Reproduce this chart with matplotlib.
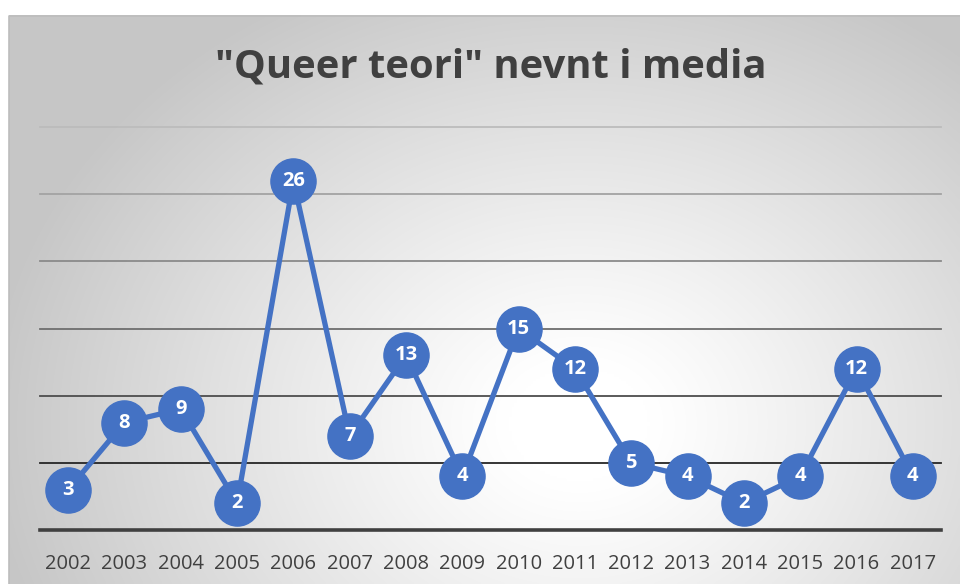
import numpy as np
import matplotlib
matplotlib.use("Agg")
import matplotlib.pyplot as plt

years = ["2002", "2003", "2004", "2005", "2006", "2007", "2008", "2009",
         "2010", "2011", "2012", "2013", "2014", "2015", "2016", "2017"]
counts = [3, 8, 9, 2, 26, 7, 13, 4, 15, 12, 5, 4, 2, 4, 12, 4]
grid_vals = [5, 10, 15, 20, 25, 30]
grid_cols = ["#262626", "#4d4d4d", "#6e6e6e", "#8a8a8a", "#a3a3a3", "#bcbcbc"]
title = '"Queer teori" nevnt i media'

W, H = 960, 584
fig = plt.figure(figsize=(W / 100, H / 100), dpi=100)
fig.patch.set_facecolor("white")

# background with radial gradient
bx0, by0 = 9, 15
bg = fig.add_axes([bx0 / W, 0, (W - bx0) / W, (H - by0) / H])
nx, ny = 400, 240
xs = np.linspace(0, 1, nx)
ys = np.linspace(0, 1, ny)
X, Y = np.meshgrid(xs, ys)
cx, cy = 0.60, 0.72
d = np.sqrt(((X - cx) / 0.62) ** 2 + ((Y - cy) / 0.85) ** 2)
d = np.clip((d - 0.12) / 0.88, 0, 1)
val = 1.0 - 0.22 * d ** 1.1
img = np.dstack([val, val, val])
bg.imshow(img, extent=[0, 1, 0, 1], aspect="auto", origin="upper", interpolation="bilinear")
bg.set_xlim(0, 1)
bg.set_ylim(0, 1)
bg.axis("off")
# border
bg.plot([0.0005, 0.0005, 1], [0, 0.999, 0.999], color="#bdbdbd", lw=1.2, transform=bg.transAxes, clip_on=False)

# plot axes
px0, px1 = 40, 941
py_top, py_bot = 127, 530
ax = fig.add_axes([px0 / W, (H - py_bot) / H, (px1 - px0) / W, (py_bot - py_top) / H])
ax.patch.set_alpha(0)
ax.set_ylim(0, 30)
ax.set_xlim(-0.5, len(years) - 0.5)
for v, c in zip(grid_vals, grid_cols):
    ax.axhline(v, color=c, lw=1.3, zorder=1, clip_on=False)
ax.axhline(0, color="#404040", lw=2.6, zorder=1, clip_on=False)
for s in ax.spines.values():
    s.set_visible(False)
ax.set_yticks([])
x = np.arange(len(years))
ax.set_xticks(x)
ax.set_xticklabels(years, fontsize=14.5, color="#404040", family="Open Sans")
ax.tick_params(axis="x", length=0, pad=17)

ax.plot(x, counts, color="#4472C4", lw=3.8, marker="o", markersize=32.5,
        markerfacecolor="#4472C4", markeredgecolor="#4472C4", zorder=3, clip_on=False)
for xi, v in zip(x, counts):
    ax.text(xi, v, str(v), ha="center", va="center", color="white",
            fontsize=14.5, fontweight="bold", family="Open Sans", zorder=4)

fig.text(491 / W, 1 - 67 / H, title, ha="center", va="center", fontsize=28.8,
         fontweight="bold", color="#404040", family="Open Sans")

fig.savefig("out.png", dpi=100)
